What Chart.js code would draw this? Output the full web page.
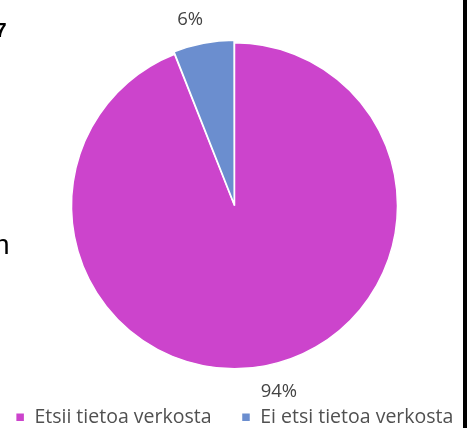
<!DOCTYPE html>
<html>
<head>
<meta charset="utf-8">
<script src="https://cdn.jsdelivr.net/npm/chart.js@4"></script>
<style>
  body { margin: 0; background: #fff; overflow: hidden; }
  #wrap { position: relative; width: 472px; height: 428px; overflow: hidden; background: #fff; }
  #chart { position: absolute; left: -24px; top: 0; }
  .frag { position: absolute; color: #000; line-height: 1; white-space: nowrap; font-family: 'Liberation Sans', Arial, sans-serif; }
  #edge { position: absolute; left: 463px; top: 0; width: 4px; height: 428px; background: #000; }
</style>
</head>
<body>
<div id="wrap">
  <canvas id="chart" width="520" height="437"></canvas>
  <span class="frag" style="left:-5px; top:19px; font-size:21px; font-weight:bold;">7</span>
  <span class="frag" style="left:-6px; top:231px; font-size:28px;">n</span>
  <div id="edge"></div>
</div>
<script>
const categories = ['Etsii tietoa verkosta', 'Ei etsi tietoa verkosta'];
const shares = [94, 6];
const sliceColors = ['#CC44CC', '#6B8ECF'];

const FONT = "'Open Sans', 'Noto Sans', sans-serif";

// percentage labels outside the slices
const outsideLabels = {
  id: 'outsideLabels',
  afterDatasetsDraw(chart) {
    const ctx = chart.ctx;
    const meta = chart.getDatasetMeta(0);
    const data = chart.data.datasets[0].data;
    const total = data.reduce((a, b) => a + b, 0);
    ctx.save();
    ctx.font = `18.5px ${FONT}`;
    ctx.fillStyle = '#444';
    ctx.textAlign = 'center';
    ctx.textBaseline = 'middle';
    meta.data.forEach((arc, i) => {
      const { x, y, startAngle, endAngle, outerRadius } = arc.getProps(['x', 'y', 'startAngle', 'endAngle', 'outerRadius'], true);
      const mid = (startAngle + endAngle) / 2;
      const r = outerRadius + 26;
      const lx = x + Math.cos(mid) * r + Math.sign(Math.cos(mid)) * 9;
      const ly = y + Math.sin(mid) * r;
      ctx.fillText(Math.round(data[i] / total * 100) + '%', lx, ly);
    });
    ctx.restore();
  }
};

new Chart(document.getElementById('chart'), {
  type: 'pie',
  data: {
    labels: categories,
    datasets: [{
      data: shares,
      backgroundColor: sliceColors,
      borderColor: '#fff',
      borderWidth: 1.5,
      offset: [0, 6]
    }]
  },
  options: {
    responsive: false,
    animation: false,
    radius: 163,
    layout: { padding: { top: 34, left: 0, right: 3, bottom: 0 } },
    plugins: {
      legend: {
        display: true,
        position: 'bottom',
        labels: {
          color: '#505050',
          font: { size: 19.5, family: FONT },
          boxWidth: 9,
          boxHeight: 9,
          padding: 30
        }
      },
      tooltip: { enabled: false }
    }
  },
  plugins: [outsideLabels]
});
</script>
</body>
</html>
